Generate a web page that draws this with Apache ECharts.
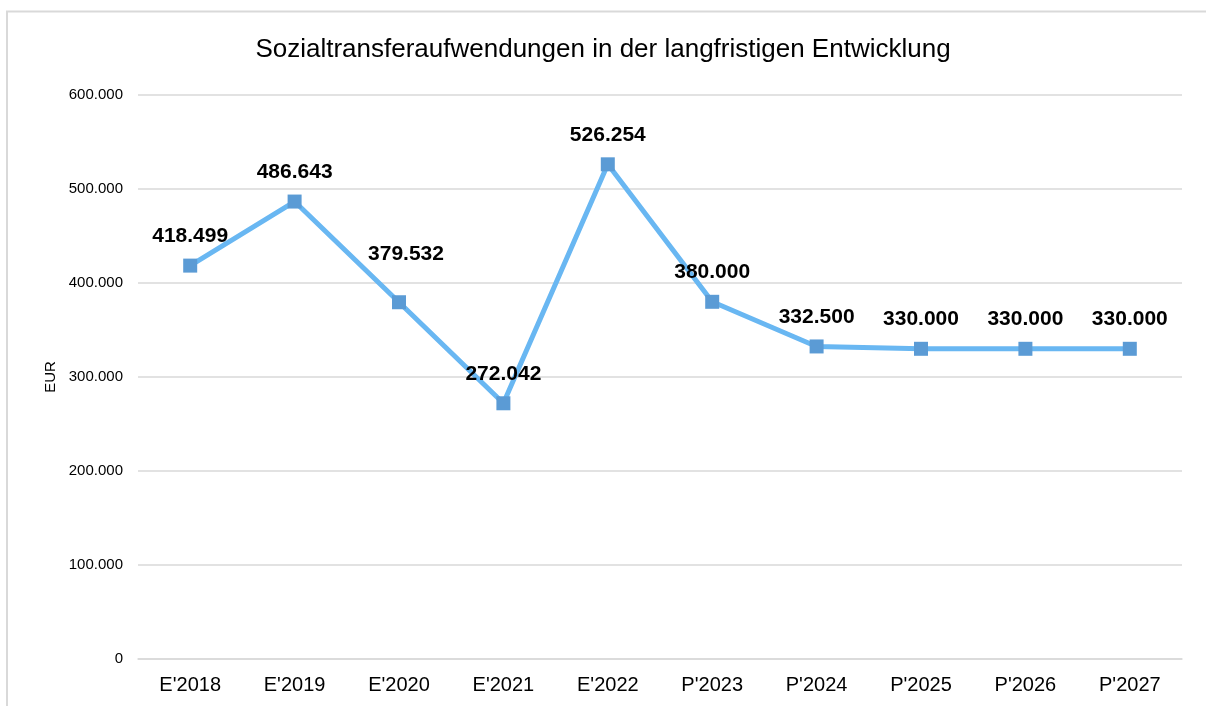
<!DOCTYPE html>
<html>
<head>
<meta charset="utf-8">
<script src="https://cdn.jsdelivr.net/npm/echarts@6/dist/echarts.min.js"></script>
<style>
    html, body { margin: 0; padding: 0; background: #fff; }
    #chart { width: 1206px; height: 706px; }
</style>
</head>
<body>
<div id="chart"></div>
<script>
var categories = ["E'2018", "E'2019", "E'2020", "E'2021", "E'2022", "P'2023", "P'2024", "P'2025", "P'2026", "P'2027"];
var values = [418499, 486643, 379532, 272042, 526254, 380000, 332500, 330000, 330000, 330000];
var yTicks = [0, 100000, 200000, 300000, 400000, 500000, 600000];

// Zahlen im deutschen Format (Tausenderpunkt)
function fmt (v) {
    return String(v).replace(/\B(?=(\d{3})+(?!\d))/g, ".");
}

// Beschriftung von E'2020 sitzt im Original etwas höher
var seriesData = values.map(function (v, i) {
    if (i === 2) {
        return { value: v, label: { offset: [7, -19] } };
    }
    return v;
});

var myChart = echarts.init(document.getElementById("chart"));
var option = {
    backgroundColor: "#fff",
    animation: false,
    textStyle: { fontFamily: "Liberation Sans, Arial, sans-serif" },
    title: {
        text: "Sozialtransferaufwendungen in der langfristigen Entwicklung",
        left: "center",
        top: 32,
        textStyle: { fontSize: 26, fontWeight: "normal", color: "#000" }
    },
    graphic: [{
        type: "rect",
        shape: { x: 7, y: 11.5, width: 1300, height: 800 },
        style: { fill: null, stroke: "#d9d9d9", lineWidth: 2 },
        silent: true
    }],
    grid: { left: 138, right: 24, top: 95, bottom: 47 },
    xAxis: {
        type: "category",
        data: categories,
        boundaryGap: true,
        axisLine: { lineStyle: { color: "#d9d9d9", width: 1.5 } },
        axisTick: { show: false },
        axisLabel: { fontSize: 20, color: "#000", margin: 16 }
    },
    yAxis: {
        type: "value",
        min: yTicks[0],
        max: yTicks[yTicks.length - 1],
        interval: 100000,
        name: "EUR",
        nameLocation: "middle",
        nameGap: 80,
        nameRotate: 90,
        nameTextStyle: { fontSize: 15, color: "#000" },
        axisLine: { show: false },
        axisTick: { show: false },
        splitLine: { lineStyle: { color: "#d9d9d9", width: 1.5 } },
        axisLabel: {
            fontSize: 15,
            color: "#000",
            margin: 15,
            formatter: function (v) { return fmt(v); }
        }
    },
    series: [{
        type: "line",
        data: seriesData,
        symbol: "rect",
        symbolSize: 14,
        itemStyle: { color: "#5b9bd5" },
        lineStyle: { color: "#69b7f2", width: 5 },
        z: 3,
        label: {
            show: true,
            position: "top",
            distance: 12,
            fontSize: 21,
            fontWeight: "bold",
            color: "#000",
            formatter: function (p) { return fmt(p.value); }
        }
    }]
};
myChart.setOption(option);
</script>
</body>
</html>
